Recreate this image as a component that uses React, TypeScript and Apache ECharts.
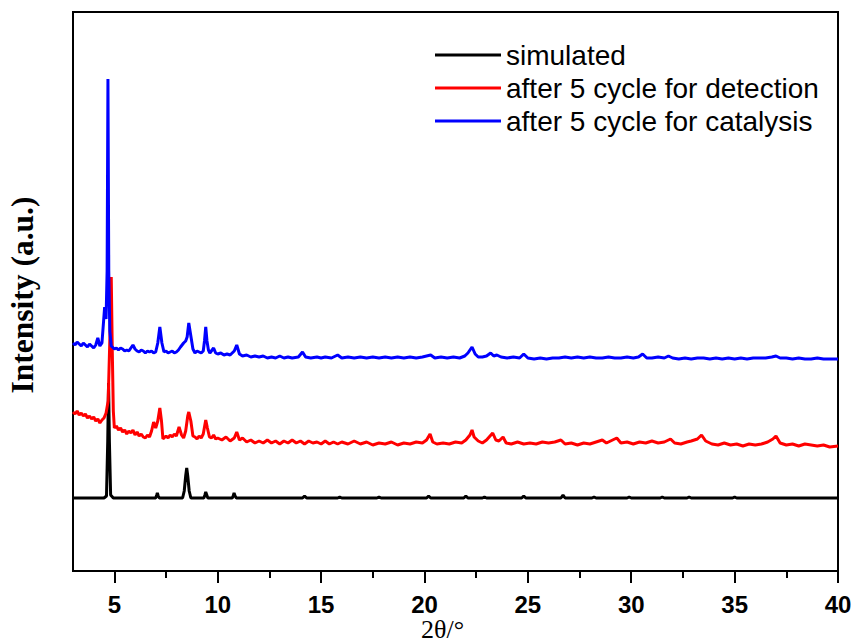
import React, { useEffect, useRef } from "react";
import * as echarts from "echarts";

const seriesNames = [
  "simulated",
  "after 5 cycle for detection",
  "after 5 cycle for catalysis",
];

const xMajorTicks = [5, 10, 15, 20, 25, 30, 35, 40];
const tickSteps = [2.5, 5, 7.5, 10, 12.5, 15, 17.5, 20, 22.5, 25, 27.5, 30, 32.5, 35, 37.5, 40];

const simulated: number[][] = [
  [3.0, 73], [4.5, 73], [4.62, 75], [4.68, 130], [4.72, 188], [4.76, 130], [4.82, 76], [4.95, 73],
  [7.0, 73], [7.05, 76], [7.08, 78], [7.12, 75], [7.18, 73],
  [8.3, 73], [8.38, 80], [8.45, 95], [8.5, 103], [8.55, 95], [8.62, 80], [8.7, 73],
  [9.33, 73], [9.38, 76], [9.42, 79], [9.47, 76], [9.52, 73],
  [10.7, 73], [10.75, 75], [10.79, 78], [10.84, 75], [10.9, 73],
  [14.1, 73], [14.2, 75], [14.3, 73], [15.8, 73], [15.9, 74], [16.0, 73],
  [17.7, 73], [17.8, 74], [17.9, 73], [20.1, 73], [20.2, 75], [20.3, 73],
  [21.9, 73], [22.0, 75], [22.1, 73], [22.8, 73], [22.9, 74], [23.0, 73],
  [24.7, 73], [24.8, 75], [24.9, 73], [26.6, 73], [26.7, 76], [26.8, 73],
  [28.1, 73], [28.2, 74], [28.3, 73], [29.8, 73], [29.9, 74], [30.0, 73],
  [31.4, 73], [31.5, 74], [31.6, 73], [32.7, 73], [32.8, 74], [32.9, 73],
  [34.9, 73], [35.0, 74], [35.1, 73], [40.0, 73],
];

const detection: number[][] = [
  [3.0, 159], [3.1, 157], [3.2, 160], [3.3, 156], [3.4, 158], [3.5, 155], [3.6, 157], [3.7, 153],
  [3.8, 155], [3.9, 152], [4.0, 154], [4.1, 150], [4.2, 152], [4.3, 148], [4.4, 151], [4.5, 153],
  [4.6, 158], [4.7, 170], [4.78, 230], [4.85, 294], [4.9, 220], [4.95, 160], [5.0, 143], [5.1, 145],
  [5.2, 141], [5.3, 143], [5.4, 139], [5.5, 141], [5.6, 137], [5.7, 140], [5.8, 138], [5.9, 141],
  [6.0, 136], [6.1, 139], [6.2, 135], [6.3, 137], [6.4, 134], [6.5, 133], [6.6, 136], [6.7, 134],
  [6.8, 140], [6.9, 149], [7.0, 143], [7.1, 150], [7.2, 163], [7.28, 150], [7.35, 132], [7.5, 135],
  [7.6, 133], [7.7, 136], [7.8, 134], [7.9, 137], [8.0, 135], [8.13, 144], [8.25, 136], [8.35, 133],
  [8.45, 140], [8.55, 155], [8.6, 159], [8.7, 150], [8.8, 135], [8.9, 134], [9.0, 132], [9.1, 135],
  [9.2, 133], [9.3, 137], [9.42, 151], [9.5, 143], [9.6, 134], [9.7, 133], [9.8, 136], [9.9, 132],
  [10.0, 133], [10.2, 131], [10.4, 134], [10.6, 130], [10.8, 133], [10.92, 139], [11.05, 131],
  [11.2, 133], [11.4, 129], [11.6, 131], [11.8, 128], [12.0, 130], [12.2, 128], [12.4, 131],
  [12.6, 128], [12.8, 130], [13.0, 127], [13.2, 130], [13.4, 128], [13.6, 131], [13.8, 128],
  [14.0, 130], [14.2, 127], [14.4, 130], [14.6, 128], [14.8, 129], [15.0, 127], [15.2, 130],
  [15.4, 127], [15.6, 129], [15.8, 127], [16.0, 129], [16.3, 127], [16.6, 130], [16.9, 127],
  [17.2, 129], [17.5, 126], [17.8, 128], [18.1, 127], [18.4, 129], [18.7, 126], [19.0, 128],
  [19.3, 127], [19.6, 129], [19.9, 128], [20.1, 131], [20.27, 137], [20.4, 129], [20.6, 127],
  [20.9, 128], [21.2, 127], [21.5, 129], [21.8, 128], [22.0, 131], [22.2, 136], [22.3, 141],
  [22.4, 134], [22.6, 130], [22.8, 128], [23.0, 131], [23.3, 138], [23.45, 131], [23.6, 130],
  [23.8, 134], [23.95, 128], [24.2, 127], [24.5, 129], [24.8, 127], [25.1, 128], [25.4, 127],
  [25.7, 129], [26.0, 128], [26.3, 129], [26.6, 131], [26.8, 127], [27.1, 128], [27.4, 126],
  [27.7, 128], [28.0, 127], [28.3, 129], [28.6, 131], [28.8, 128], [29.0, 130], [29.3, 133],
  [29.5, 128], [29.8, 129], [30.1, 127], [30.4, 129], [30.7, 128], [31.0, 130], [31.3, 128],
  [31.6, 129], [31.9, 132], [32.1, 128], [32.4, 127], [32.7, 129], [32.9, 130], [33.2, 132],
  [33.4, 136], [33.6, 130], [33.9, 127], [34.2, 126], [34.5, 128], [34.8, 126], [35.1, 127],
  [35.4, 125], [35.7, 127], [36.0, 126], [36.3, 127], [36.6, 129], [36.85, 132], [37.0, 135],
  [37.2, 128], [37.5, 126], [37.8, 127], [38.1, 125], [38.4, 127], [38.7, 126], [39.0, 125],
  [39.3, 126], [39.6, 124], [40.0, 125],
];

const catalysis: number[][] = [
  [3.0, 228], [3.1, 226], [3.2, 229], [3.3, 227], [3.4, 225], [3.5, 228], [3.6, 226], [3.7, 224],
  [3.8, 227], [3.9, 225], [4.0, 223], [4.1, 226], [4.2, 233], [4.3, 225], [4.4, 228], [4.48, 250],
  [4.53, 264], [4.6, 252], [4.65, 300], [4.69, 492], [4.73, 300], [4.78, 240], [4.85, 225],
  [5.0, 222], [5.1, 223], [5.2, 221], [5.3, 223], [5.4, 222], [5.5, 220], [5.6, 221], [5.7, 220],
  [5.8, 223], [5.9, 226], [6.0, 222], [6.1, 220], [6.2, 219], [6.3, 221], [6.4, 220], [6.5, 218],
  [6.6, 220], [6.7, 219], [6.8, 220], [6.9, 218], [7.0, 219], [7.1, 228], [7.2, 244], [7.3, 228],
  [7.4, 219], [7.5, 220], [7.6, 218], [7.7, 219], [7.8, 220], [7.9, 218], [8.0, 219], [8.1, 221],
  [8.2, 224], [8.35, 228], [8.45, 230], [8.52, 234], [8.6, 248], [8.7, 235], [8.8, 222],
  [8.9, 218], [9.0, 220], [9.1, 219], [9.2, 218], [9.3, 220], [9.36, 230], [9.42, 244], [9.48, 230],
  [9.55, 221], [9.62, 218], [9.8, 223], [9.9, 218], [10.0, 217], [10.15, 218], [10.3, 216],
  [10.45, 217], [10.6, 216], [10.8, 220], [10.92, 226], [11.05, 217], [11.2, 215], [11.4, 216],
  [11.6, 214], [11.8, 215], [12.0, 214], [12.2, 215], [12.4, 213], [12.6, 214], [12.8, 213],
  [13.0, 215], [13.2, 213], [13.4, 214], [13.6, 213], [13.9, 214], [14.1, 219], [14.25, 214],
  [14.5, 213], [14.8, 214], [15.0, 213], [15.2, 214], [15.5, 213], [15.8, 216], [16.0, 213],
  [16.3, 214], [16.6, 213], [16.9, 214], [17.2, 213], [17.5, 214], [17.8, 213], [18.1, 214],
  [18.4, 213], [18.7, 214], [19.0, 213], [19.3, 214], [19.6, 213], [19.9, 214], [20.3, 216],
  [20.5, 213], [20.8, 214], [21.1, 213], [21.4, 214], [21.7, 213], [21.95, 215], [22.1, 218],
  [22.3, 224], [22.45, 217], [22.6, 214], [22.8, 214], [23.0, 215], [23.2, 218], [23.35, 215],
  [23.5, 216], [23.7, 214], [24.0, 213], [24.3, 214], [24.6, 213], [24.8, 217], [25.0, 213],
  [25.3, 212], [25.6, 213], [25.9, 212], [26.2, 213], [26.5, 213], [26.8, 214], [27.1, 213],
  [27.4, 214], [27.7, 213], [28.0, 214], [28.3, 213], [28.6, 213], [28.9, 214], [29.2, 213],
  [29.5, 213], [29.8, 214], [30.1, 213], [30.35, 214], [30.55, 217], [30.75, 213], [31.0, 213],
  [31.3, 214], [31.6, 213], [31.8, 215], [32.0, 213], [32.3, 212], [32.6, 213], [32.9, 212],
  [33.2, 213], [33.5, 213], [33.8, 212], [34.1, 213], [34.4, 212], [34.7, 213], [35.0, 212],
  [35.3, 213], [35.6, 212], [35.9, 213], [36.2, 213], [36.5, 213], [36.8, 214], [37.0, 215],
  [37.2, 213], [37.5, 213], [37.8, 212], [38.1, 213], [38.4, 212], [38.7, 212], [39.0, 213],
  [39.3, 212], [39.6, 212], [40.0, 212],
];

const seriesData = [simulated, detection, catalysis];
const seriesColors = ["#000000", "#ff0000", "#0000ff"];

const X_MIN = 3;
const X_MAX = 40;
const GRID_LEFT = 73;
const GRID_RIGHT = 19;
const CHART_W = 857;

export default function App() {
  const ref = useRef<HTMLDivElement>(null);

  useEffect(() => {
    if (!ref.current) return;
    const chart = echarts.init(ref.current, undefined, { renderer: "svg" });

    // Tick grid: category axis spanning 2.5..40, aligned with the 3..40 value axis.
    const plotW = CHART_W - GRID_LEFT - GRID_RIGHT;
    const pxPerUnit = plotW / (X_MAX - X_MIN);
    const tickGridLeft = GRID_LEFT - (X_MIN - tickSteps[0]) * pxPerUnit;
    const tickCats = tickSteps.map((v) => String(v));

    const option: any = {
      animation: false,
      backgroundColor: "#ffffff",
      grid: [
        {
          left: GRID_LEFT,
          right: GRID_RIGHT,
          top: 12,
          bottom: 70,
          show: true,
          borderColor: "#000",
          borderWidth: 2,
          backgroundColor: "transparent",
        },
        {
          left: tickGridLeft,
          right: GRID_RIGHT,
          top: 12,
          bottom: 70,
          show: false,
        },
      ],
      legend: {
        show: true,
        orient: "vertical",
        left: 435,
        top: 41,
        padding: 0,
        icon: "rect",
        itemWidth: 66,
        itemHeight: 3,
        itemGap: 5,
        data: seriesNames,
        textStyle: {
          fontFamily: "Liberation Sans, Arial, sans-serif",
          fontSize: 28,
          lineHeight: 24,
          color: "#000",
        },
      },
      xAxis: [
        {
          type: "value",
          gridIndex: 0,
          min: X_MIN,
          max: X_MAX,
          position: "bottom",
          axisLine: { show: true, onZero: false, lineStyle: { color: "#000", width: 2 } },
          axisTick: { show: false },
          axisLabel: {
            show: true,
            margin: 21,
            customValues: xMajorTicks,
            fontFamily: "Liberation Sans, Arial, sans-serif",
            fontWeight: "bold",
            fontSize: 24,
            color: "#000",
          },
          splitLine: { show: false },
        },
        {
          type: "category",
          gridIndex: 1,
          data: tickCats,
          boundaryGap: false,
          position: "bottom",
          axisLine: { show: false, onZero: false },
          axisTick: {
            show: true,
            inside: false,
            length: 12,
            interval: (_i: number, v: string) => Number(v) % 5 === 0,
            lineStyle: { color: "#000", width: 2 },
          },
          axisLabel: { show: false },
          splitLine: { show: false },
        },
        {
          type: "category",
          gridIndex: 1,
          data: tickCats,
          boundaryGap: false,
          position: "bottom",
          axisLine: { show: false, onZero: false },
          axisTick: {
            show: true,
            inside: false,
            length: 7,
            interval: (_i: number, v: string) => Number(v) % 5 !== 0 && Number(v) > X_MIN,
            lineStyle: { color: "#000", width: 2 },
          },
          axisLabel: { show: false },
          splitLine: { show: false },
        },
      ],
      yAxis: [
        {
          type: "value",
          gridIndex: 0,
          min: 0,
          max: 559,
          axisLine: { show: true, lineStyle: { color: "#000", width: 2 } },
          axisTick: { show: false },
          axisLabel: { show: false },
          splitLine: { show: false },
        },
        {
          type: "value",
          gridIndex: 1,
          show: false,
          min: 0,
          max: 1,
        },
      ],
      series: seriesNames.map((name, i) => ({
        name,
        type: "line",
        xAxisIndex: 0,
        yAxisIndex: 0,
        data: seriesData[i],
        symbol: "none",
        showSymbol: false,
        smooth: false,
        lineStyle: { color: seriesColors[i], width: 3 },
        itemStyle: { color: seriesColors[i] },
        z: 2 + i,
      })),
      graphic: {
        elements: [
          {
            type: "text",
            id: "ytitle",
            x: 22,
            y: 295,
            rotation: Math.PI / 2,
            style: {
              text: "Intensity (a.u.)",
              font: "bold 31.5px 'Liberation Serif', 'Times New Roman', serif",
              fill: "#000",
              align: "center",
              verticalAlign: "middle",
            },
          },
          {
            type: "text",
            id: "xtitle",
            x: 421,
            y: 616,
            style: {
              text: "2θ/°",
              font: "26px 'Liberation Serif', 'Times New Roman', serif",
              fill: "#000",
              align: "left",
              verticalAlign: "top",
            },
          },
        ],
      },
    };
    chart.setOption(option);

    return () => chart.dispose();
  }, []);

  return (
    <div
      ref={ref}
      style={{ position: "fixed", left: 0, top: 0, width: 857, height: 641 }}
    />
  );
}
